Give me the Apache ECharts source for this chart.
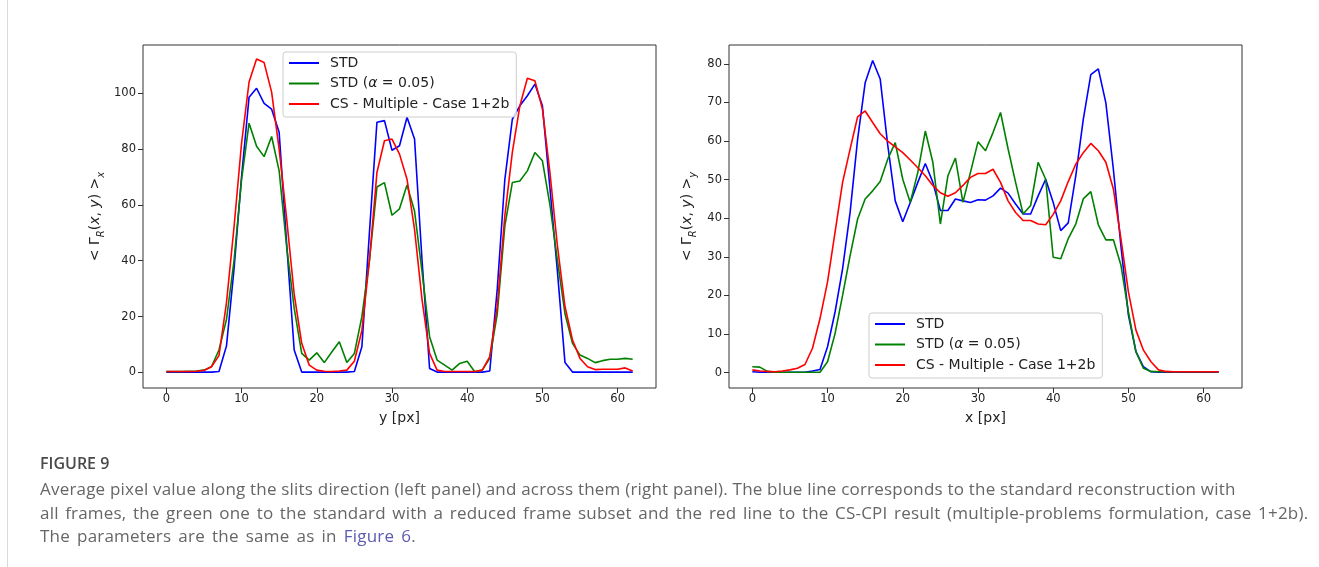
<!DOCTYPE html>
<html>
<head>
<meta charset="utf-8">
<script src="https://cdn.jsdelivr.net/npm/echarts@6/dist/echarts.min.js"></script>
<style>
html,body{margin:0;padding:0;background:#fff;}
#wrap{position:relative;width:1319px;height:567px;overflow:hidden;background:#fff;}
#chart{position:absolute;left:0;top:0;width:1319px;height:567px;}
#frame{position:absolute;left:7px;top:0;height:567px;width:0;border-left:1px solid #d9d9d9;}
#fig{position:absolute;left:40px;top:452px;font-family:'Open Sans','Noto Sans',sans-serif;font-weight:600;font-size:16px;line-height:22px;color:#4a4a4a;white-space:nowrap;}
#cap{position:absolute;left:40px;top:477px;font-family:'Open Sans','Noto Sans',sans-serif;font-size:17px;letter-spacing:0.2px;line-height:23.5px;color:#666;white-space:nowrap;}
#cap .l2{word-spacing:1.9px;}
#cap .l3{word-spacing:2.5px;}
#cap .lnk{color:#5b5bb0;}
</style>
</head>
<body>
<div id="wrap">
  <div id="chart"></div>
  <div id="frame"></div>
  <div id="fig">FIGURE 9</div>
  <div id="cap">Average pixel value along the slits direction (left panel) and across them (right panel). The blue line corresponds to the standard reconstruction with<br><span class="l2">all frames, the green one to the standard with a reduced frame subset and the red line to the CS-CPI result (multiple-problems formulation, case 1+2b).</span><br><span class="l3">The parameters are the same as in <span class="lnk">Figure 6</span>.</span></div>
</div>
<script>
// ---- data ----
const pixels = [0,1,2,3,4,5,6,7,8,9,10,11,12,13,14,15,16,17,18,19,20,21,22,23,24,25,26,27,28,29,30,31,32,33,34,35,36,37,38,39,40,41,42,43,44,45,46,47,48,49,50,51,52,53,54,55,56,57,58,59,60,61,62];
const seriesNames = ['STD', 'STD (α = 0.05)', 'CS - Multiple - Case 1+2b'];

// Left panel: average along slits direction, vs y [px]
const stdLeft = [0.1,0.1,0.1,0.1,0.1,0.1,0.1,0.3,
  9.5,37,70,98.6,101.8,96.4,94.3,86,46,8,
  0.1,0.1,0.1,0.1,0.1,0.1,0.1,
  0.3,9.2,50,89.6,90.2,79.6,81.2,91.4,83.6,40,
  1.4,0.1,0.1,0.1,0.1,0.1,0.1,0.1,0.5,
  30,69,90.7,95.5,99.1,103.3,95.5,66,36,3.5,
  0.1,0.1,0.1,0.1,0.1,0.1,0.1,0.1,0.1];
const stdAlphaLeft = [0.3,0.3,0.3,0.4,0.5,0.8,2,8,
  19,40,69,89.3,81,77.3,84.5,72.2,45,23,
  6.8,4.4,7,3.5,7.3,11,3.5,6.8,20,40,
  66.4,68,56.3,58.6,67.1,57.8,36,12.8,4.4,2.6,
  0.8,3.2,4,0.2,0.8,5,21,52.4,68,68.6,
  72.2,78.8,75.8,60,40,21,10.4,6.2,5,3.5,
  4.2,4.7,4.7,5,4.7];
const csLeft = [0.3,0.3,0.3,0.3,0.4,0.7,2,6,
  25,52,82,104,112.3,111,100.4,80,55,28,
  10.4,2.6,0.8,0.4,0.3,0.5,0.8,4,15,40,
  71.6,83,83.6,78.2,69.2,51.2,26,6.8,0.8,0.3,
  0.3,0.3,0.3,0.3,0.8,5.6,23.6,56,78.8,95.5,
  105.4,104.5,94.4,71.6,45.2,23.6,11.6,5,2,1,
  1.1,1.1,1.1,1.6,0.5];

// Right panel: average across slits, vs x [px]
const stdRight = [0.2,0.1,0.1,0.1,0.1,0.1,0.1,0.1,0.4,0.8,
  6.7,15.7,26.9,41.5,60.5,75.1,80.9,76.1,59,44.5,
  39.1,44.1,49.3,54.2,49.3,42,42,45,44.5,44.1,
  44.8,44.7,45.8,47.8,46.5,43.7,41.1,41.1,45.8,50.1,
  44.1,36.8,38.8,51,65.6,77.2,78.7,69.9,52.7,32.9,
  14.9,5.4,1.5,0.2,0.1,0.1,0.1,0.1,0.1,0.1,
  0.1,0.1,0.1];
const stdAlphaRight = [1.5,1.4,0.3,0.1,0.1,0.1,0.1,0.1,0.1,0.1,
  2.8,10.1,20,30.3,39.8,45,47.1,49.5,55.3,59.6,
  50.1,44.1,51.9,62.6,54.5,38.5,51,55.6,44.1,51.9,
  59.8,57.5,62.2,67.4,58,49.3,41.1,43.3,54.5,50.1,
  29.9,29.5,34.7,38.5,45,46.9,38.3,34.4,34.4,27.9,
  15.7,5.4,1.1,0.3,0.2,0.2,0.2,0.2,0.2,0.2,
  0.2,0.2,0.2];
const csRight = [0.7,0.4,0.3,0.2,0.4,0.7,1.1,2.1,6.3,14,
  23.5,36.4,49.3,57.9,66.3,67.8,64.8,61.9,60,58.5,
  57,55.1,53.1,51,48.5,46.6,45.7,46.6,48.5,50.6,
  51.6,51.6,52.7,49.3,44.5,41.5,39.4,39.4,38.5,38.3,
  41,44.5,49.5,54,57,59.4,57.5,54.5,47.6,34.7,
  20.9,11,5.8,2.8,0.7,0.3,0.2,0.2,0.2,0.2,
  0.2,0.2,0.2];

const xTicks = [0,10,20,30,40,50,60];
const yTicksLeft = [0,20,40,60,80,100];
const yTicksRight = [0,10,20,30,40,50,60,70,80];

// ---- chart ----
const FONT = 'DejaVu Sans';
const TXT = '#222';
const colors = ['#0000ff', '#008000', '#ff0000'];

function pairs(arr){ return arr.map((v,i)=>[pixels[i], v]); }

function xAxisCfg(grid, name){
  return {
    type:'value', gridIndex:grid, min:-3.1, max:65.1,
    name:name, nameLocation:'middle', nameGap:23,
    nameTextStyle:{fontFamily:FONT, fontSize:14, color:TXT},
    axisLine:{show:false, onZero:false},
    axisTick:{show:true, length:5, customValues:xTicks, lineStyle:{color:'#333'}},
    axisLabel:{customValues:xTicks, margin:5, fontFamily:FONT, fontSize:11.5, color:TXT},
    splitLine:{show:false}
  };
}
function yAxisCfg(grid, min, max, ticks, sub, gap){
  return {
    type:'value', gridIndex:grid, min:min, max:max,
    name:'{n|< Γ}{si|R}{n|(}{i|x}{n|, }{i|y}{n|) >}{si|'+sub+'}',
    nameLocation:'middle', nameRotate:90, nameGap:gap,
    nameTextStyle:{
      fontFamily:FONT, fontSize:14, color:TXT,
      rich:{
        n:{fontFamily:FONT, fontSize:14, color:TXT, lineHeight:22, verticalAlign:'middle'},
        i:{fontFamily:FONT, fontSize:14, color:TXT, fontStyle:'italic', lineHeight:22, verticalAlign:'middle'},
        si:{fontFamily:FONT, fontSize:10, color:TXT, fontStyle:'italic', lineHeight:11, verticalAlign:'bottom'}
      }
    },
    axisLine:{show:false, onZero:false},
    axisTick:{show:true, length:5, customValues:ticks, lineStyle:{color:'#333'}},
    axisLabel:{customValues:ticks, margin:7, fontFamily:FONT, fontSize:11.5, color:TXT},
    splitLine:{show:false}
  };
}
function legendCfg(left, top){
  return {
    data:seriesNames, orient:'vertical', left:left, top:top,
    icon:'rect', itemWidth:30, itemHeight:2, itemGap:6.5,
    padding:[4,7,6,6],
    backgroundColor:'rgba(255,255,255,0.8)', borderColor:'#cccccc', borderWidth:1, borderRadius:3,
    selectedMode:false,
    textStyle:{fontFamily:FONT, fontSize:14, color:TXT,
      rich:{ sp:{width:6}, i:{fontFamily:FONT, fontSize:14, color:TXT, fontStyle:'italic'} }},
    formatter:function(name){
      if (name === seriesNames[1]) return '{sp| }STD ({i|α} = 0.05)';
      return '{sp| }' + name;
    }
  };
}
function line(name, data, xi, color){
  return {
    name:name, type:'line', xAxisIndex:xi, yAxisIndex:xi, data:pairs(data),
    symbol:'none', lineStyle:{width:1.6, color:color}, itemStyle:{color:color},
    emphasis:{disabled:true}
  };
}

const option = {
  animation:false,
  backgroundColor:'transparent',
  grid:[
    {left:143, top:45, width:513, height:343, show:true, borderColor:'#333', borderWidth:1, containLabel:false},
    {left:729, top:45, width:513, height:343, show:true, borderColor:'#333', borderWidth:1, containLabel:false}
  ],
  xAxis:[ xAxisCfg(0, 'y [px]'), xAxisCfg(1, 'x [px]') ],
  yAxis:[ yAxisCfg(0, -5.6, 117.3, yTicksLeft, 'x', 37), yAxisCfg(1, -4, 84.9, yTicksRight, 'y', 31) ],
  legend:[ legendCfg(283, 52), legendCfg(869, 313) ],
  series:[
    line(seriesNames[0], stdLeft, 0, colors[0]),
    line(seriesNames[1], stdAlphaLeft, 0, colors[1]),
    line(seriesNames[2], csLeft, 0, colors[2]),
    line(seriesNames[0], stdRight, 1, colors[0]),
    line(seriesNames[1], stdAlphaRight, 1, colors[1]),
    line(seriesNames[2], csRight, 1, colors[2])
  ]
};
const chart = echarts.init(document.getElementById('chart'), null, {renderer:'canvas'});
chart.setOption(option);
</script>
</body>
</html>
